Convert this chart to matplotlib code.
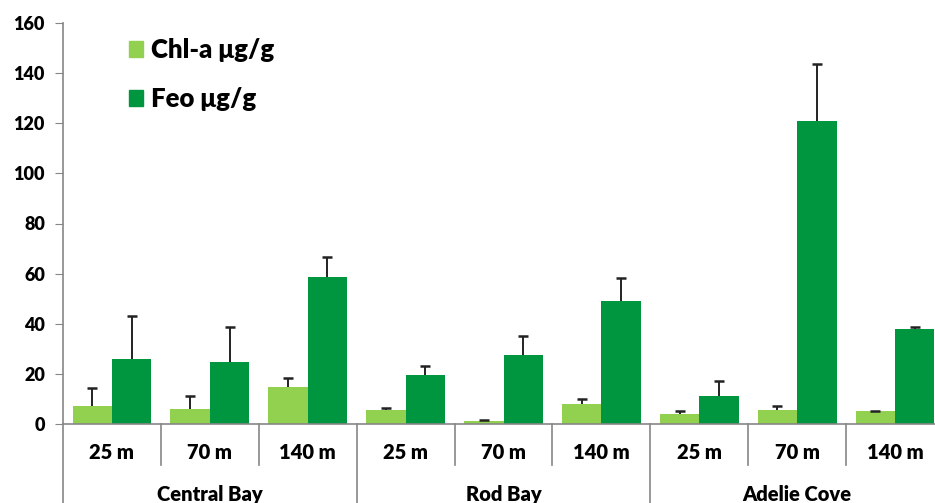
import matplotlib
matplotlib.use("Agg")
import matplotlib.pyplot as plt
import matplotlib.transforms as mtransforms
import numpy as np
from matplotlib.patches import Patch

# valeurs
depths = ["25 m", "70 m", "140 m", "25 m", "70 m", "140 m", "25 m", "70 m", "140 m"]
sites = ["Central Bay", "Rod Bay", "Adelie Cove"]
chl = [7.2, 5.9, 14.8, 5.5, 1.2, 7.9, 3.9, 5.6, 5.2]
chl_sd = [7.0, 5.2, 3.4, 0.7, 0.3, 2.1, 1.4, 1.5, 0.1]
feo = [26.0, 24.9, 58.5, 19.5, 27.6, 49.2, 11.3, 120.8, 37.8]
feo_sd = [17.1, 13.7, 8.3, 3.8, 7.5, 9.1, 5.7, 22.7, 1.0]

c_chl = "#92D050"
c_feo = "#00963F"
grey = "#868686"

plt.rcParams['font.family'] = ['Lato', 'DejaVu Sans']
plt.rcParams['font.weight'] = 'heavy'

fig = plt.figure(figsize=(9.35, 5.03), dpi=100)
ax = fig.add_axes([63 / 935, (503 - 424) / 503, (944 - 63) / 935, (424 - 23) / 503])

x = np.arange(len(depths))
w = 0.402
ax.bar(x - w / 2, chl, w, color=c_chl, zorder=2)
ax.bar(x + w / 2, feo, w, color=c_feo, zorder=2)

# barres d'erreur vers le haut seulement
for xs, m, sd in [(x - w / 2, chl, chl_sd), (x + w / 2, feo, feo_sd)]:
    top = np.array(m) + np.array(sd)
    ax.vlines(xs, m, top, color='#222222', lw=1.4, zorder=3)
    ax.plot(xs, top, ls='none', marker='_', ms=7, mew=1.8, color='#222222', zorder=3)

ax.set_xlim(-0.5, len(depths) - 0.5)
ax.set_ylim(0, 160)
ax.set_yticks(range(0, 161, 20))
ax.tick_params(axis='y', direction='out', length=6, color=grey, labelsize=13, pad=7)
ax.set_xticks([])
for s in ['top', 'right']:
    ax.spines[s].set_visible(False)
for s in ['left', 'bottom']:
    ax.spines[s].set_color(grey)
    ax.spines[s].set_linewidth(1.2)

# axe des catégories à deux niveaux
trans = mtransforms.blended_transform_factory(ax.transData, ax.transAxes)
for i, d in enumerate(depths):
    ax.text(i, -0.07, d, transform=trans, ha='center', va='center', fontsize=14.5)
for k in range(len(depths) + 1):
    bottom = -0.25 if k % 3 == 0 else -0.102
    ax.plot([k - 0.5, k - 0.5], [0, bottom], transform=trans, color=grey, lw=1.2, clip_on=False)
for j, s in enumerate(sites):
    ax.text(3 * j + 1, -0.153, s, transform=trans, ha='center', va='top', fontsize=14.5)

handles = [Patch(color=c_chl, label="Chl-a μg/g"), Patch(color=c_feo, label="Feo μg/g")]
ax.legend(handles=handles, loc='upper left', bbox_to_anchor=(106 / 935, 1 - 15 / 503),
          bbox_transform=fig.transFigure, frameon=False, prop={'size': 18.5, 'weight': 'heavy'},
          handlelength=0.55, handleheight=0.55, handletextpad=0.3, labelspacing=0.98)

fig.savefig("out.png", dpi=100)
